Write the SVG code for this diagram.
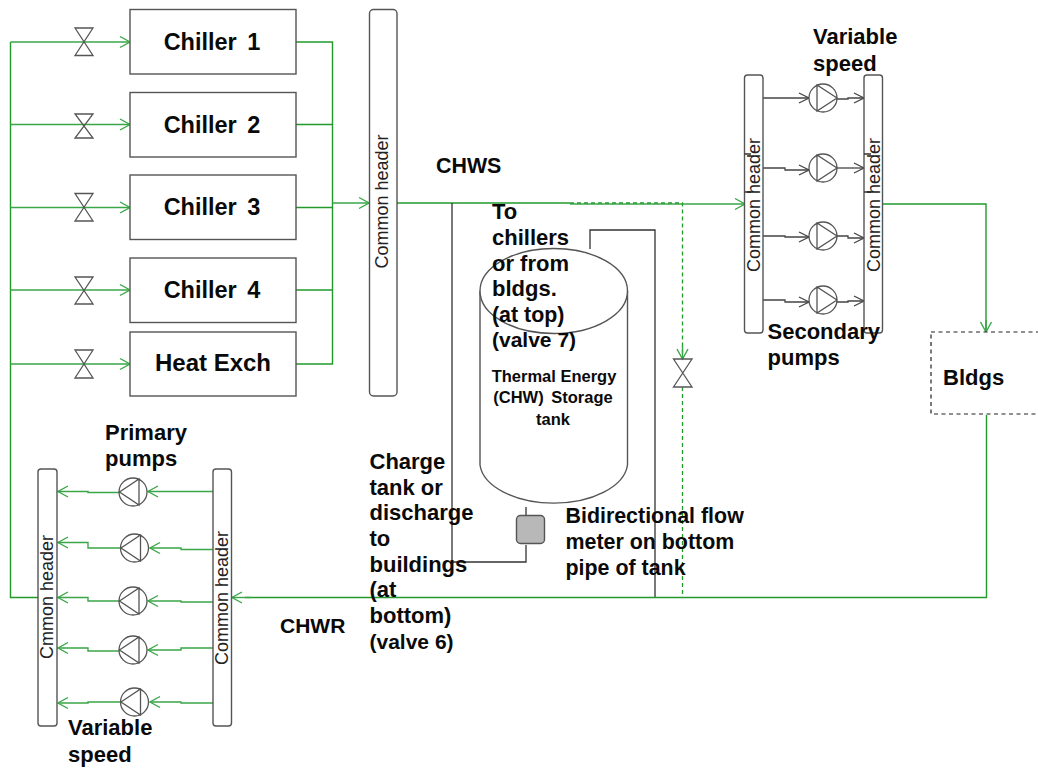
<svg xmlns="http://www.w3.org/2000/svg" width="1038" height="770" viewBox="0 0 1038 770">
<style>
text{font-family:"Liberation Sans",Arial,sans-serif;fill:#0a0a0a}
.b{font-weight:700;font-size:22px}
.n{font-weight:700;font-size:21.4px}
.c{font-weight:700;font-size:23.5px;text-anchor:middle;word-spacing:4px}
.s{font-weight:700;font-size:16.5px;text-anchor:middle}
.h{font-size:18px;fill:#222}
.box{fill:#fff;stroke:#555;stroke-width:1.4}
.hdr{fill:#fff;stroke:#555;stroke-width:1.4}
.g{fill:none;stroke:#219a2b;stroke-width:1.4}
.ga{fill:none;stroke:#3aa648;stroke-width:1.4;marker-end:url(#ag)}
.gd{fill:none;stroke:#219a2b;stroke-width:1.3;stroke-dasharray:4 3}
.k{fill:none;stroke:#333;stroke-width:1.3}
.ka{fill:none;stroke:#444;stroke-width:1.3;marker-end:url(#ak)}
.v{fill:none;stroke:#555;stroke-width:1.3}
</style>
<defs>
<marker id="ag" markerUnits="userSpaceOnUse" markerWidth="14" markerHeight="14" refX="12" refY="7" orient="auto" overflow="visible"><path d="M2,1.5 L12,7 L2,12.5" fill="none" stroke="#3aa648" stroke-width="1.4"/></marker>
<marker id="ak" markerUnits="userSpaceOnUse" markerWidth="14" markerHeight="14" refX="12" refY="7" orient="auto" overflow="visible"><path d="M2,2 L12,7 L2,12" fill="none" stroke="#444" stroke-width="1.3"/></marker>
<path id="pl" d="M0,0 m-14,0 a14,14 0 1,0 28,0 a14,14 0 1,0 -28,0 M-13.5,0 L6,-13 L6,13 Z" fill="#fff" stroke="#555" stroke-width="1.3"/>
<path id="pr" d="M0,0 m-14,0 a14,14 0 1,0 28,0 a14,14 0 1,0 -28,0 M14,0 L-6,-13 L-6,13 Z" fill="#fff" stroke="#555" stroke-width="1.3"/>
</defs>

<g id="connectors">
<path class="g" d="M10.5,42 V597.5 H38"/>
<path class="ga" d="M10.5,42 H130"/>
<path class="ga" d="M10.5,124.500 H130"/>
<path class="ga" d="M10.5,207.500 H130"/>
<path class="ga" d="M10.5,290 H130"/>
<path class="ga" d="M10.5,364 H130"/>
<path class="g" d="M296,42 H332.500 V364 H296 M296,124.500 H332.500 M296,207.500 H332.500 M296,290 H332.500"/>
<path class="ga" d="M332.500,203 H369"/>
<path class="g" d="M397,203 H570"/>
<path class="ga" d="M570,204 H745"/>
<path class="gd" d="M570,203 H682.500 V358"/>
<path class="ga" d="M682.500,346 V359"/>
<path class="gd" d="M682.500,387 V594"/>
<path class="k" d="M452,203 V562 H526 V545 M526,507 V516"/>
<path class="k" d="M590,249 V230 H655 V598"/>
<path class="g" d="M882.500,204 H986 V331"/>
<path class="ga" d="M986,320 V332"/>
<path class="g" d="M986.500,415 V597.500 H245"/>
<path class="ga" d="M250,597.500 H232"/>
<path class="ga" d="M213,491.500 H148"/>
<path class="ga" d="M119,492.500 H88 V491.500 H58"/>
<path class="ga" d="M213,549.500 H181 V548 H150"/>
<path class="ga" d="M120,548 H88 V542.500 H58"/>
<path class="ga" d="M213,602 H181 V601 H148"/>
<path class="ga" d="M119,601 H88 V597.500 H58"/>
<path class="ga" d="M213,648 H181 V650 H148"/>
<path class="ga" d="M119,651 H88 V648 H58"/>
<path class="ga" d="M213,703 H181 V702 H150"/>
<path class="ga" d="M120,702 H88 V703 H58"/>
<path class="ka" d="M763,98 H809"/>
<path class="ka" d="M837,99 H848 V98 H864"/>
<path class="ka" d="M763,168 H785 V170 H809"/>
<path class="ka" d="M837,168 H864"/>
<path class="ka" d="M763,236 H785 V237 H809"/>
<path class="ka" d="M837,236 H848 V238 H864"/>
<path class="ka" d="M763,300 H785 V302 H809"/>
<path class="ka" d="M837,302 H848 V301 H864"/>
</g>

<g id="chiller1"><rect class="box" x="130" y="9.500" width="166" height="64.500"/><text class="c" x="212" y="49.500">Chiller 1</text></g>
<g id="chiller2"><rect class="box" x="130" y="92.500" width="166" height="64.500"/><text class="c" x="212" y="132.500">Chiller 2</text></g>
<g id="chiller3"><rect class="box" x="130" y="175" width="166" height="64.500"/><text class="c" x="212" y="214.500">Chiller 3</text></g>
<g id="chiller4"><rect class="box" x="130" y="258" width="166" height="64.500"/><text class="c" x="212" y="297.500">Chiller 4</text></g>
<g id="heatexch"><rect class="box" x="130" y="332" width="166" height="64"/><text class="c" x="213" y="371" style="word-spacing:0;font-size:24px">Heat Exch</text></g>

<g id="valves">
<path class="v" d="M75,28 H93 L75,55.500 H93 Z"/>
<path class="v" d="M75,114 H93 L75,138 H93 Z"/>
<path class="v" d="M75,193.500 H93 L75,221 H93 Z"/>
<path class="v" d="M75,277 H93 L75,304 H93 Z"/>
<path class="v" d="M75,350 H93 L75,378 H93 Z"/>
<path class="v" d="M673.500,359 H692 L673.500,387 H692 Z"/>
</g>

<g id="header-main"><rect class="hdr" x="369.500" y="9.500" width="27.500" height="386.500" rx="4"/><text class="h" transform="translate(388 268.500) rotate(-90)">Common header</text></g>
<g id="header-sec-in"><rect class="hdr" x="744.500" y="75" width="18.500" height="258" rx="3"/><path class="k" d="M744.500,154 H751 M744.500,192 H751"/><text class="h" transform="translate(759.500 272) rotate(-90)">Common header</text></g>
<g id="header-sec-out"><rect class="hdr" x="864" y="75" width="18.500" height="258" rx="3"/><path class="k" d="M864,154 H871 M864,192 H871"/><text class="h" transform="translate(879.500 272) rotate(-90)">Common header</text></g>
<g id="header-pri-out"><rect class="hdr" x="38" y="469" width="19" height="257" rx="3"/><text class="h" transform="translate(52.500 659) rotate(-90)">Cmmon header</text></g>
<g id="header-pri-in"><rect class="hdr" x="213" y="469" width="18.500" height="257" rx="3"/><text class="h" transform="translate(228 665) rotate(-90)">Common header</text></g>

<g id="pumps-primary">
<use href="#pl" x="133" y="492"/>
<use href="#pl" x="134.500" y="548"/>
<use href="#pl" x="133" y="601"/>
<use href="#pl" x="133" y="650"/>
<use href="#pl" x="134.500" y="702"/>
</g>
<g id="pumps-secondary">
<use href="#pr" x="823" y="98"/>
<use href="#pr" x="823" y="168"/>
<use href="#pr" x="823" y="236"/>
<use href="#pr" x="823" y="300"/>
</g>

<g id="tank">
<path class="box" d="M480,291 V465 A74,41.500 0 0 0 627.500,465 V291"/>
<ellipse class="box" cx="553.750" cy="291" rx="73.750" ry="42.500"/>
<text class="s" x="554" y="382">Thermal Energy</text>
<text class="s" x="553" y="403" style="word-spacing:3px">(CHW) Storage</text>
<text class="s" x="553" y="425">tank</text>
</g>
<g id="flowmeter"><rect x="516.500" y="515.500" width="28" height="28" rx="4" fill="#b8b8b8" stroke="#555" stroke-width="1.4"/></g>
<g id="bldgs"><rect x="931" y="332" width="120" height="82" fill="#fff" stroke="#222" stroke-width="1.2" stroke-dasharray="4 3.500"/><text class="b" x="943" y="385">Bldgs</text></g>

<g id="labels">
<text class="n" x="436" y="173">CHWS</text>
<text class="n" x="280" y="633" style="font-size:21px">CHWR</text>
<text class="b" x="813" y="44">Variable</text>
<text class="b" x="813" y="71">speed</text>
<text class="b" x="767.500" y="339">Secondary</text>
<text class="b" x="767.500" y="365">pumps</text>
<text class="b" x="105" y="440">Primary</text>
<text class="b" x="105" y="466">pumps</text>
<text class="b" x="68" y="735">Variable</text>
<text class="b" x="68" y="762">speed</text>
<text class="b" x="492" y="219">To</text>
<text class="b" x="492" y="245">chillers</text>
<text class="b" x="492" y="271">or from</text>
<text class="b" x="492" y="296">bldgs.</text>
<text class="b" x="492" y="322" style="font-size:21.4px">(at top)</text>
<text class="b" x="492" y="347" style="font-size:21px">(valve 7)</text>
<text class="b" x="369.500" y="469">Charge</text>
<text class="b" x="369.500" y="495">tank or</text>
<text class="b" x="369.500" y="520">discharge</text>
<text class="b" x="369.500" y="546">to</text>
<text class="b" x="369.500" y="572">buildings</text>
<text class="b" x="369.500" y="597">(at</text>
<text class="b" x="369.500" y="623">bottom)</text>
<text class="b" x="369.500" y="649" style="font-size:21px">(valve 6)</text>
<text class="n" x="565.500" y="523">Bidirectional flow</text>
<text class="n" x="565.500" y="549">meter on bottom</text>
<text class="n" x="565.500" y="575">pipe of tank</text>
</g>
</svg>
